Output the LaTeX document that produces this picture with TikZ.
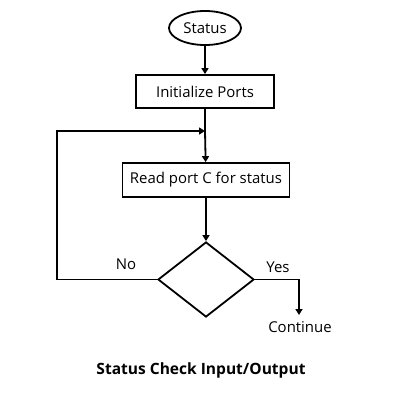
\documentclass[tikz,border=0pt]{standalone}
\usepackage{fontspec}
\setmainfont{Open Sans}
\usetikzlibrary{shapes.geometric,arrows.meta}
\begin{document}
\begin{tikzpicture}[x=1bp,y=-1bp,
  every node/.style={font=\fontsize{15}{17}\selectfont},
  shp/.style={draw,line width=1.8bp,inner sep=0pt},
  con/.style={line width=1.8bp,-{Triangle[length=6bp,width=7bp]}},
  lin/.style={line width=1.8bp}]
\useasboundingbox[fill=white] (0,0) rectangle (400,400);
\node[shp,ellipse,minimum width=72bp,minimum height=34bp] (st) at (205,28) {Status};
\node[shp,rectangle,minimum width=138bp,minimum height=33bp] (init) at (205,91.5) {Initialize Ports};
\node[shp,rectangle,minimum width=167bp,minimum height=34bp] (read) at (206,180) {Read port C for status};
\node[shp,diamond,minimum width=96bp,minimum height=75bp,aspect=1.28] (dec) at (206,279.5) {};
\coordinate (m) at (205,131);
\coordinate (l1) at (57,279.5);
\coordinate (l2) at (57,131);
\coordinate (y1) at (299,279.5);
\coordinate (y2) at (299,315);
\node (no) at (126,264) {No};
\node (yes) at (278,267) {Yes};
\node (cont) at (300,327) {Continue};
\node[font=\fontsize{15.6}{18}\selectfont\bfseries] (title) at (201,370) {Status Check Input/Output};
\draw[con] (st) -- (init);
\draw[lin] (init) -- (m);
\draw[con] (m) -- (read);
\draw[con] (read) -- (dec);
\draw[con] (dec.west) -- (l1) -- (l2) -- (m);
\draw[con] (dec.east) -- (y1) -- (y2);
\end{tikzpicture}
\end{document}
